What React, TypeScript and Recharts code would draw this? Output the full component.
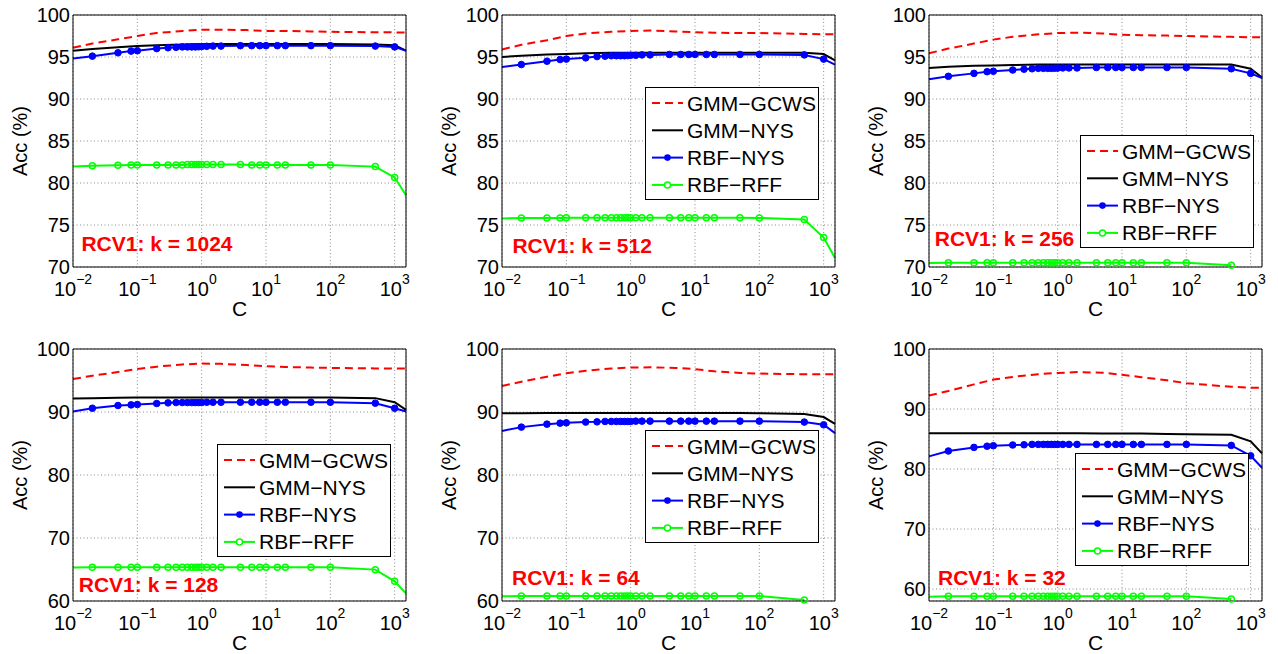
import { LineChart, Line, XAxis, YAxis, CartesianGrid, Legend, ReferenceDot } from 'recharts'

const FONT = '"Liberation Sans", Arial, Helvetica, sans-serif'

// C values carrying markers, and the visible axis ends
const C_MARK = [0.02, 0.05, 0.08, 0.1, 0.2, 0.3, 0.4, 0.5, 0.6, 0.7, 0.8, 0.9, 1, 1.2, 1.5, 2, 4, 6, 8, 10, 15, 20, 50, 100, 500, 1000]
const C_FULL = [0.01, ...C_MARK, 1500]
const C_LINE = [0.01, 0.02, 0.05, 0.1, 0.2, 0.5, 1, 2, 5, 10, 20, 50, 100, 500, 1000, 1500]

const X_DOMAIN = [0.01, 1500]
const X_MAJOR = [0.01, 0.1, 1, 10, 100, 1000]
const X_MINOR = [0.01, 0.1, 1, 10, 100].flatMap(d => [2, 3, 4, 5, 6, 7, 8, 9].map(m => +(m * d).toPrecision(3)))
const X_ALL = [...X_MAJOR, ...X_MINOR].sort((a, b) => a - b)

const Y_TICKS_5 = [70, 75, 80, 85, 90, 95, 100]
const Y_TICKS_10 = [60, 70, 80, 90, 100]

// k = 1024
const K1024_GCWS = [96.1, 96.6, 97.1, 97.5, 97.85, 98.1, 98.25, 98.25, 98.2, 98.1, 98.1, 98.05, 98.0, 97.95, 97.93, 97.9]
const K1024_GMM_NYS = [95.75, 95.95, 96.15, 96.3, 96.4, 96.5, 96.55, 96.55, 96.55, 96.55, 96.55, 96.55, 96.55, 96.5, 96.4, 95.75]
const K1024_RBF_NYS = [94.83, 95.1, 95.5, 95.7, 95.75, 96.0, 96.1, 96.15, 96.2, 96.2, 96.2, 96.2, 96.22, 96.25, 96.27, 96.3, 96.3, 96.35, 96.35, 96.35, 96.35, 96.35, 96.35, 96.35, 96.35, 96.3, 96.2, 95.75]
const K1024_RBF_RFF = [81.95, 82.05, 82.1, 82.15, 82.15, 82.15, 82.15, 82.15, 82.15, 82.2, 82.2, 82.2, 82.2, 82.2, 82.2, 82.2, 82.2, 82.2, 82.15, 82.15, 82.15, 82.15, 82.15, 82.15, 82.15, 81.95, 80.65, 78.55]

// k = 512
const K512_GCWS = [95.9, 96.45, 97.0, 97.5, 97.8, 98.0, 98.1, 98.15, 98.05, 97.95, 97.9, 97.85, 97.85, 97.75, 97.7, 97.7]
const K512_GMM_NYS = [95.0, 95.15, 95.3, 95.35, 95.45, 95.5, 95.5, 95.5, 95.5, 95.5, 95.5, 95.5, 95.5, 95.5, 95.35, 94.6]
const K512_RBF_NYS = [93.8, 94.1, 94.5, 94.7, 94.75, 94.9, 95.05, 95.1, 95.15, 95.15, 95.15, 95.15, 95.17, 95.2, 95.2, 95.25, 95.25, 95.3, 95.3, 95.3, 95.3, 95.3, 95.3, 95.3, 95.3, 95.25, 94.75, 94.1]
const K512_RBF_RFF = [75.77, 75.84, 75.84, 75.84, 75.85, 75.85, 75.85, 75.85, 75.85, 75.85, 75.85, 75.85, 75.85, 75.85, 75.85, 75.85, 75.85, 75.85, 75.85, 75.85, 75.85, 75.85, 75.85, 75.85, 75.84, 75.65, 73.5, 71.08]

// k = 256
const K256_GCWS = [95.45, 96.0, 96.6, 97.07, 97.4, 97.7, 97.85, 97.9, 97.8, 97.65, 97.6, 97.55, 97.5, 97.4, 97.35, 97.35]
const K256_GMM_NYS = [93.7, 93.85, 93.95, 94.0, 94.05, 94.1, 94.1, 94.1, 94.1, 94.1, 94.1, 94.1, 94.1, 94.1, 93.6, 92.55]
const K256_RBF_NYS = [92.35, 92.7, 93.05, 93.25, 93.3, 93.45, 93.55, 93.6, 93.65, 93.65, 93.65, 93.65, 93.67, 93.68, 93.7, 93.7, 93.7, 93.75, 93.75, 93.75, 93.75, 93.75, 93.75, 93.75, 93.75, 93.6, 93.05, 92.5]
const K256_RBF_RFF = [70.48, 70.52, 70.52, 70.52, 70.52, 70.52, 70.52, 70.52, 70.52, 70.52, 70.52, 70.52, 70.52, 70.52, 70.52, 70.52, 70.52, 70.52, 70.52, 70.52, 70.52, 70.52, 70.52, 70.52, 70.52, 70.2]

// k = 128
const K128_GCWS = [95.25, 95.75, 96.35, 96.83, 97.2, 97.55, 97.68, 97.65, 97.45, 97.26, 97.15, 97.05, 97.0, 96.92, 96.9, 96.9]
const K128_GMM_NYS = [92.14, 92.2, 92.25, 92.3, 92.3, 92.3, 92.3, 92.3, 92.3, 92.3, 92.3, 92.3, 92.3, 92.2, 91.55, 90.35]
const K128_RBF_NYS = [90.08, 90.6, 91.03, 91.13, 91.19, 91.35, 91.45, 91.5, 91.5, 91.5, 91.5, 91.5, 91.5, 91.5, 91.55, 91.55, 91.55, 91.55, 91.55, 91.55, 91.55, 91.55, 91.55, 91.55, 91.55, 91.4, 90.6, 90.08]
const K128_RBF_RFF = [65.3, 65.35, 65.35, 65.35, 65.35, 65.35, 65.35, 65.35, 65.35, 65.35, 65.35, 65.35, 65.35, 65.35, 65.35, 65.35, 65.35, 65.35, 65.35, 65.35, 65.35, 65.35, 65.35, 65.35, 65.35, 64.98, 63.13, 61.2]

// k = 64
const K64_GCWS = [94.14, 94.8, 95.6, 96.15, 96.55, 96.9, 97.05, 97.1, 97.0, 96.8, 96.45, 96.2, 96.1, 96.0, 96.0, 96.0]
const K64_GMM_NYS = [89.8, 89.82, 89.83, 89.83, 89.83, 89.83, 89.83, 89.83, 89.83, 89.83, 89.83, 89.83, 89.8, 89.7, 89.2, 88.1]
const K64_RBF_NYS = [87.0, 87.6, 88.07, 88.23, 88.28, 88.4, 88.44, 88.5, 88.5, 88.5, 88.5, 88.5, 88.5, 88.5, 88.55, 88.55, 88.55, 88.55, 88.55, 88.55, 88.55, 88.55, 88.55, 88.55, 88.55, 88.4, 87.97, 86.65]
const K64_RBF_RFF = [60.74, 60.79, 60.79, 60.79, 60.79, 60.79, 60.79, 60.79, 60.79, 60.79, 60.79, 60.79, 60.79, 60.79, 60.79, 60.79, 60.79, 60.79, 60.79, 60.79, 60.79, 60.79, 60.79, 60.79, 60.79, 60.16]

// k = 32
const K32_GCWS = [92.25, 93.0, 94.1, 94.9, 95.35, 95.8, 96.0, 96.15, 96.05, 95.7, 95.3, 94.8, 94.3, 93.7, 93.55, 93.55]
const K32_GMM_NYS = [85.95, 85.95, 85.95, 85.95, 85.95, 85.95, 85.95, 85.95, 85.9, 85.9, 85.9, 85.85, 85.8, 85.7, 84.6, 82.6]
const K32_RBF_NYS = [82.1, 83.0, 83.6, 83.8, 83.88, 84.0, 84.04, 84.1, 84.1, 84.1, 84.1, 84.1, 84.1, 84.1, 84.1, 84.1, 84.1, 84.1, 84.1, 84.1, 84.1, 84.1, 84.1, 84.1, 84.1, 83.93, 82.2, 80.2]
const K32_RBF_RFF = [58.72, 58.78, 58.78, 58.78, 58.78, 58.78, 58.78, 58.78, 58.78, 58.78, 58.78, 58.78, 58.78, 58.78, 58.78, 58.78, 58.78, 58.78, 58.78, 58.78, 58.78, 58.78, 58.78, 58.78, 58.78, 58.33]

const SERIES = [
  { name: 'GMM−GCWS', color: '#ff0000', dash: '8 5', marker: 'none' },
  { name: 'GMM−NYS', color: '#000000', dash: undefined, marker: 'none' },
  { name: 'RBF−NYS', color: '#0000ff', dash: undefined, marker: 'dot' },
  { name: 'RBF−RFF', color: '#00ff00', dash: undefined, marker: 'circle' },
]

const PANELS = [
  { note: 'RCV1: k = 1024', noteC: 0.0135, noteAcc: 72.8, gcws: K1024_GCWS, gmmNys: K1024_GMM_NYS, rbfNys: K1024_RBF_NYS, rbfRff: K1024_RBF_RFF, yDomain: [70, 100], yTicks: Y_TICKS_5, left: 0, top: 0, legend: null },
  { note: 'RCV1: k = 512', noteC: 0.0145, noteAcc: 72.5, gcws: K512_GCWS, gmmNys: K512_GMM_NYS, rbfNys: K512_RBF_NYS, rbfRff: K512_RBF_RFF, yDomain: [70, 100], yTicks: Y_TICKS_5, left: 429, top: 0, legend: { x: 216, y: 87 } },
  { note: 'RCV1: k = 256', noteC: 0.0123, noteAcc: 73.4, gcws: K256_GCWS, gmmNys: K256_GMM_NYS, rbfNys: K256_RBF_NYS, rbfRff: K256_RBF_RFF, yDomain: [70, 100], yTicks: Y_TICKS_5, left: 856, top: 0, legend: { x: 224, y: 135 } },
  { note: 'RCV1: k = 128', noteC: 0.0123, noteAcc: 62.6, gcws: K128_GCWS, gmmNys: K128_GMM_NYS, rbfNys: K128_RBF_NYS, rbfRff: K128_RBF_RFF, yDomain: [60, 100], yTicks: Y_TICKS_10, left: 0, top: 334, legend: { x: 217, y: 110 } },
  { note: 'RCV1: k = 64', noteC: 0.0143, noteAcc: 63.7, gcws: K64_GCWS, gmmNys: K64_GMM_NYS, rbfNys: K64_RBF_NYS, rbfRff: K64_RBF_RFF, yDomain: [60, 100], yTicks: Y_TICKS_10, left: 429, top: 334, legend: { x: 216, y: 96 } },
  { note: 'RCV1: k = 32', noteC: 0.0138, noteAcc: 61.9, gcws: K32_GCWS, gmmNys: K32_GMM_NYS, rbfNys: K32_RBF_NYS, rbfRff: K32_RBF_RFF, yDomain: [58, 100], yTicks: Y_TICKS_10, left: 856, top: 334, legend: { x: 219, y: 119 } },
]

const toPoints = (xs: number[], ys: number[]) => ys.map((acc, i) => ({ c: xs[i], acc }))

const EmptyTick = () => <g />

function LogTick({ x, y, payload }: any) {
  const p = Math.round(Math.log10(payload.value))
  return (
    <text x={x} y={y + 29} textAnchor="middle" fontSize={20} fill="#000" fontFamily={FONT}>
      10<tspan dy={-12} fontSize={14}>{p < 0 ? `−${-p}` : `${p}`}</tspan>
    </text>
  )
}

const xLabel = ({ viewBox }: any) => (
  <text x={viewBox.x + viewBox.width / 2} y={viewBox.y + 49} textAnchor="middle" fontSize={21} fill="#000" fontFamily={FONT}>C</text>
)

const yLabel = ({ viewBox }: any) => {
  const cx = viewBox.x + 20
  const cy = viewBox.y + viewBox.height / 2
  return (
    <text x={cx} y={cy} transform={`rotate(-90, ${cx}, ${cy})`} textAnchor="middle" dominantBaseline="central" fontSize={20} fill="#000" fontFamily={FONT}>
      Acc (%)
    </text>
  )
}

const blueDot = (props: any) => {
  const { cx, cy, payload, index } = props
  if (!C_MARK.includes(payload.c)) return <g key={`b${index}`} />
  return <circle key={`b${index}`} cx={cx} cy={cy} r={3.3} fill="#0000ff" stroke="#0000ff" strokeWidth={1} />
}

const greenDot = (props: any) => {
  const { cx, cy, payload, index } = props
  if (!C_MARK.includes(payload.c)) return <g key={`g${index}`} />
  return <circle key={`g${index}`} cx={cx} cy={cy} r={3} fill="none" stroke="#00ff00" strokeWidth={1.5} />
}

function LegendBox({ payload }: any) {
  const items = payload ?? []
  return (
    <svg width={174} height={113} style={{ display: 'block' }}>
      <rect x={0.5} y={0.5} width={173} height={112} fill="#fff" stroke="#000" strokeWidth={1} />
      {items.map((item: any, i: number) => {
        const s = SERIES.find(d => d.name === item.value)
        const cy = 16 + i * 27.3
        return (
          <g key={item.value}>
            <line x1={7} x2={38} y1={cy} y2={cy} stroke={item.color} strokeWidth={2} strokeDasharray={s?.dash} />
            {s?.marker === 'dot' && <circle cx={22.5} cy={cy} r={3.3} fill={item.color} />}
            {s?.marker === 'circle' && <circle cx={22.5} cy={cy} r={3} fill="#fff" stroke={item.color} strokeWidth={1.5} />}
            <text x={42} y={cy} dominantBaseline="central" fontSize={21} fill="#000" fontFamily={FONT}>{item.value}</text>
          </g>
        )
      })}
    </svg>
  )
}

function Panel({ panel }: { panel: typeof PANELS[number] }) {
  const xProps = { type: 'number' as const, scale: 'log' as const, domain: X_DOMAIN, dataKey: 'c', interval: 0, stroke: '#000' }
  const yProps = { type: 'number' as const, domain: panel.yDomain, ticks: panel.yTicks, interval: 0, stroke: '#000' }
  return (
    <div style={{ position: 'absolute', left: panel.left, top: panel.top, fontFamily: FONT }}>
      <LineChart width={414} height={319} margin={{ top: 15, right: 8, bottom: 0, left: 0 }}>
        <CartesianGrid xAxisId="x" yAxisId="y" stroke="#6f6f6f" strokeWidth={0.8} strokeDasharray="1 2.5" />
        <XAxis xAxisId="x" {...xProps} ticks={X_MAJOR} height={52} tickLine={false} tickSize={0} tickMargin={0}
          tick={LogTick} label={{ content: xLabel }} />
        <XAxis xAxisId="xb" {...xProps} ticks={X_ALL} orientation="bottom" mirror tick={EmptyTick} tickSize={3} axisLine={false} />
        <XAxis xAxisId="xt" {...xProps} ticks={X_ALL} orientation="top" mirror tick={EmptyTick} tickSize={3} />
        <YAxis yAxisId="y" {...yProps} width={73} tickLine={false} tickSize={0} tickMargin={3}
          tick={{ fontSize: 20, fill: '#000', fontFamily: FONT }} label={{ content: yLabel }} />
        <YAxis yAxisId="yl" {...yProps} orientation="left" mirror tick={EmptyTick} tickSize={3} axisLine={false} />
        <YAxis yAxisId="yr" {...yProps} orientation="right" mirror tick={EmptyTick} tickSize={3} />
        <Line xAxisId="x" yAxisId="y" data={toPoints(C_LINE, panel.gcws)} dataKey="acc" name="GMM−GCWS" type="linear"
          stroke="#ff0000" strokeWidth={2} strokeDasharray="8 5" dot={false} activeDot={false} isAnimationActive={false} />
        <Line xAxisId="x" yAxisId="y" data={toPoints(C_LINE, panel.gmmNys)} dataKey="acc" name="GMM−NYS" type="linear"
          stroke="#000000" strokeWidth={2} dot={false} activeDot={false} isAnimationActive={false} />
        <Line xAxisId="x" yAxisId="y" data={toPoints(C_FULL, panel.rbfNys)} dataKey="acc" name="RBF−NYS" type="linear"
          stroke="#0000ff" strokeWidth={2} dot={blueDot} activeDot={false} isAnimationActive={false} />
        <Line xAxisId="x" yAxisId="y" data={toPoints(C_FULL, panel.rbfRff)} dataKey="acc" name="RBF−RFF" type="linear"
          stroke="#00ff00" strokeWidth={2} dot={greenDot} activeDot={false} isAnimationActive={false} />
        <ReferenceDot xAxisId="x" yAxisId="y" x={panel.noteC} y={panel.noteAcc} r={0} fill="none" stroke="none"
          label={{ value: panel.note, position: 'right', offset: 0, fill: '#ff0000', fontSize: 21, fontWeight: 700, fontFamily: FONT }} />
        {panel.legend && (
          <Legend verticalAlign="middle" align="center" layout="vertical" content={LegendBox}
            wrapperStyle={{ left: panel.legend.x, top: panel.legend.y, width: 174, height: 113 }} />
        )}
      </LineChart>
    </div>
  )
}

export default function App() {
  return (
    <div style={{ position: 'absolute', left: 0, top: 0, width: 1278, height: 654, background: '#fff', overflow: 'hidden' }}>
      {PANELS.map(p => <Panel key={p.note} panel={p} />)}
    </div>
  )
}
